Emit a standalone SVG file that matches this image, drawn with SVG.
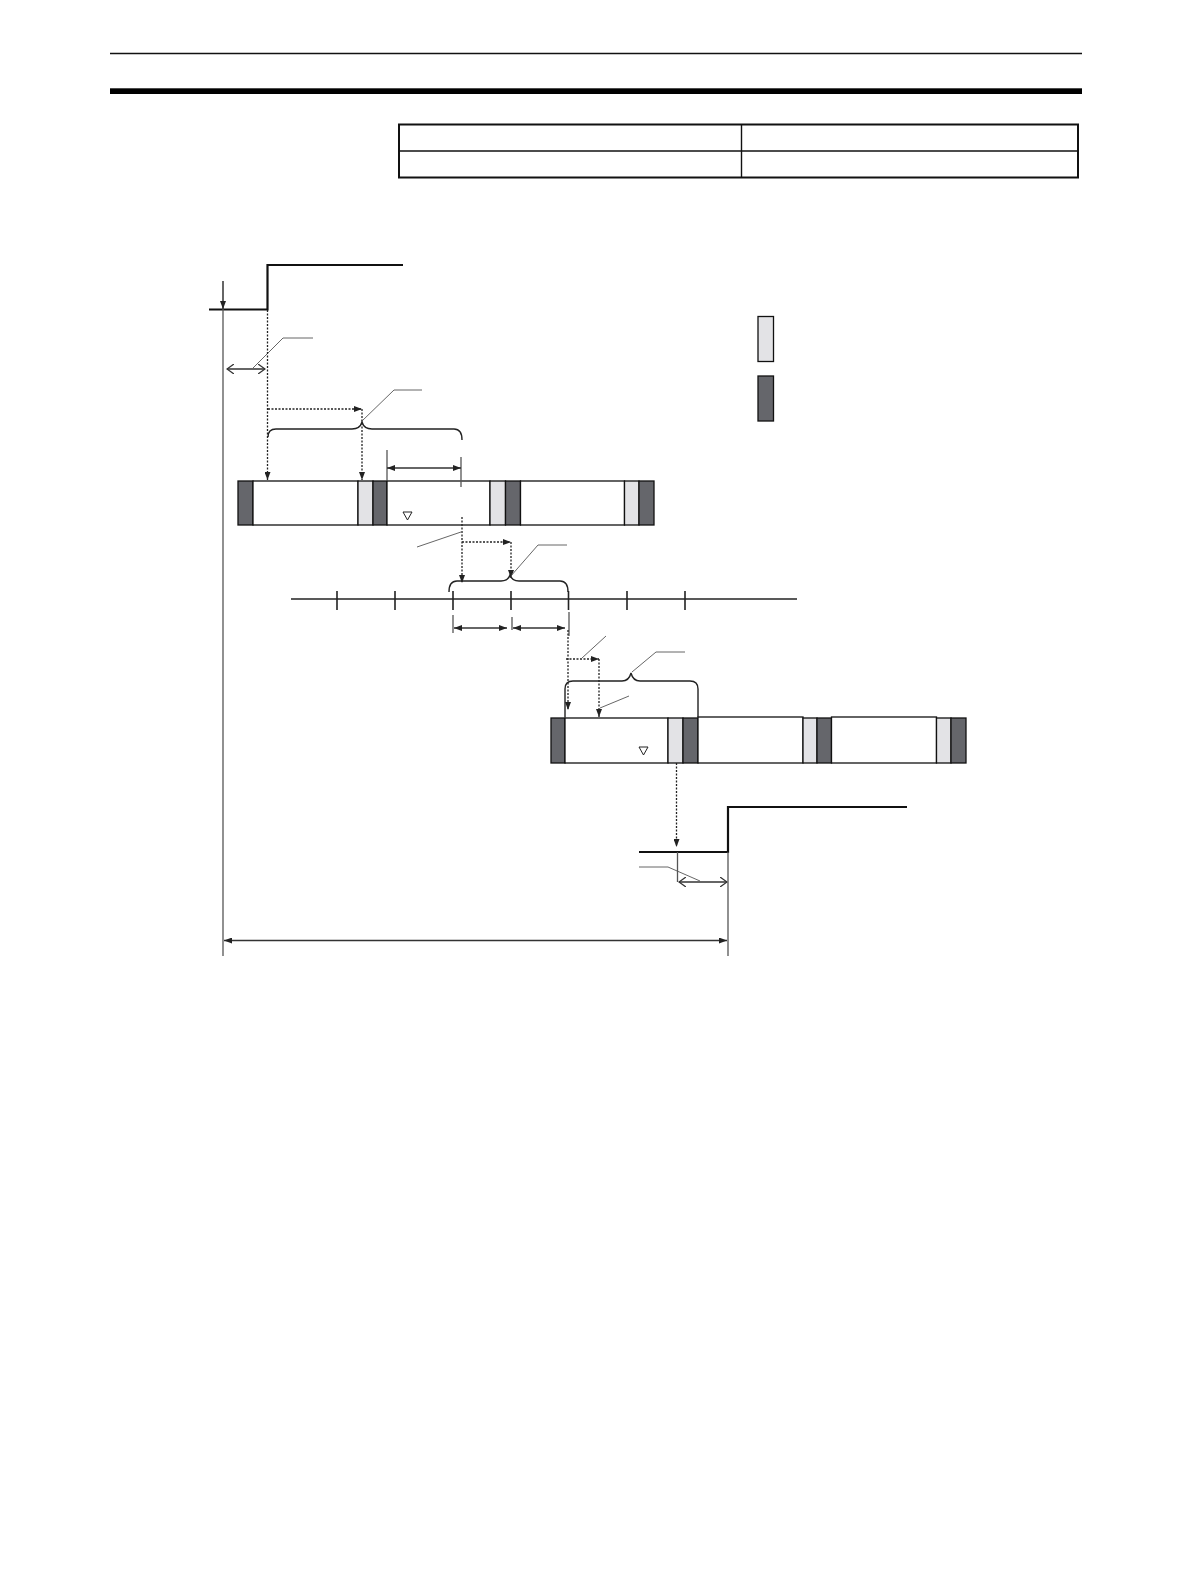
<svg xmlns="http://www.w3.org/2000/svg" width="1190" height="1584" viewBox="0 0 1190 1584">
<style>
.bg{fill:#fff}
.sig{stroke:#111;stroke-width:2.2;fill:none}
.frame{stroke:#111;fill:none}
.dot{stroke:#222;stroke-width:1.3;stroke-dasharray:2,1.5;fill:none}
.lead{stroke:#555;stroke-width:0.9;fill:none}
.dim{stroke:#333;stroke-width:1.5;fill:none}
.thin{stroke:#555;stroke-width:1.3;fill:none}
.brace{stroke:#222;stroke-width:1.4;fill:none}
.seg{stroke:#111;stroke-width:1.3}
.w{fill:#fff}
.l{fill:#e3e3e6}
.d{fill:#65666b}
.tick{stroke:#222;stroke-width:1.6}
</style>
<defs>
<marker id="ah" viewBox="0 0 8 6" refX="8" refY="3" markerWidth="8" markerHeight="6" markerUnits="userSpaceOnUse" orient="auto-start-reverse"><path d="M0,0 L8,3 L0,6 z" fill="#222"/></marker>
<marker id="oh" viewBox="0 0 8 10" refX="7" refY="5" markerWidth="8" markerHeight="10" markerUnits="userSpaceOnUse" orient="auto-start-reverse"><path d="M0,0 L7,5 L0,10" fill="none" stroke="#333" stroke-width="1.3"/></marker>
</defs>
<rect class="bg" width="1190" height="1584"/>

<g id="header">
<line x1="110" y1="53.5" x2="1082" y2="53.5" stroke="#111" stroke-width="1.6"/>
<rect x="110" y="88.3" width="972" height="5.7" fill="#000"/>
</g>

<g id="table">
<rect x="399" y="124.5" width="679" height="53" class="frame" stroke-width="2"/>
<line x1="399" y1="151" x2="1078" y2="151" stroke="#111" stroke-width="1.4"/>
<line x1="741.5" y1="124.5" x2="741.5" y2="177.5" stroke="#111" stroke-width="1.4"/>
</g>

<g id="input-signal">
<polyline class="sig" points="209,309.5 267.5,309.5 267.5,265 403,265" stroke-width="1.8"/>
</g>

<g id="output-signal">
<polyline class="sig" points="639,852 728,852 728,807 907,807" stroke-width="2.2"/>
</g>

<g id="legend">
<rect id="legend-light" x="758" y="316.5" width="15.5" height="45" class="seg l" stroke-width="1.6"/>
<rect id="legend-dark" x="758" y="376" width="15.5" height="45" class="seg d" stroke-width="1.6"/>
</g>

<g id="bar1">
<rect x="238" y="481" width="15" height="44" class="seg d"/>
<rect x="253" y="481" width="105" height="44" class="seg w"/>
<rect x="358" y="481" width="15" height="44" class="seg l"/>
<rect x="373" y="481" width="14" height="44" class="seg d"/>
<rect x="387" y="481" width="103" height="44" class="seg w"/>
<rect x="490" y="481" width="15.5" height="44" class="seg l"/>
<rect x="505.5" y="481" width="15" height="44" class="seg d"/>
<rect x="520.5" y="481" width="104" height="44" class="seg w"/>
<rect x="624.5" y="481" width="14.5" height="44" class="seg l"/>
<rect x="639" y="481" width="15" height="44" class="seg d"/>
<polygon points="403,512 412,512 407.5,520" fill="none" stroke="#222" stroke-width="1"/>
</g>

<g id="bar2">
<rect x="551" y="718" width="14" height="45" class="seg d"/>
<rect x="565" y="718" width="103" height="45" class="seg w"/>
<rect x="668" y="718" width="15" height="45" class="seg l"/>
<rect x="683" y="718" width="15" height="45" class="seg d"/>
<rect x="698" y="717" width="105" height="46" class="seg w"/>
<rect x="803" y="718" width="14" height="45" class="seg l"/>
<rect x="817" y="718" width="14.5" height="45" class="seg d"/>
<rect x="831.5" y="717" width="105" height="46" class="seg w"/>
<rect x="936.5" y="718" width="14.5" height="45" class="seg l"/>
<rect x="951" y="718" width="15" height="45" class="seg d"/>
<polygon points="639,747 648,747 643.5,755" fill="none" stroke="#222" stroke-width="1"/>
</g>

<g id="timeline">
<line x1="291" y1="599" x2="797" y2="599" stroke="#222" stroke-width="1.5"/>
<line class="tick" x1="337" y1="591" x2="337" y2="610"/>
<line class="tick" x1="395" y1="591" x2="395" y2="610"/>
<line class="tick" x1="453" y1="591" x2="453" y2="610"/>
<line class="tick" x1="511" y1="591" x2="511" y2="610"/>
<line class="tick" x1="568.5" y1="591" x2="568.5" y2="610"/>
<line class="tick" x1="627" y1="591" x2="627" y2="610"/>
<line class="tick" x1="685" y1="591" x2="685" y2="610"/>
</g>

<g id="connectors">
<!-- left reference line and down arrow -->
<line x1="223" y1="281" x2="223" y2="309" class="dim" marker-end="url(#ah)"/>
<line x1="223" y1="309" x2="223" y2="956" class="thin"/>
<!-- input delay arrow -->
<line x1="227" y1="369" x2="265" y2="369" class="dim" marker-start="url(#oh)" marker-end="url(#oh)"/>
<polyline class="lead" points="253,368 283,338 313,338"/>
<!-- dotted from input step to bar 1 -->
<line x1="267.5" y1="310" x2="267.5" y2="480" class="dot" marker-end="url(#ah)"/>
<line x1="268" y1="409" x2="362" y2="409" class="dot" marker-end="url(#ah)"/>
<line x1="362" y1="409" x2="362" y2="480" class="dot" marker-end="url(#ah)"/>
<!-- brace 1 -->
<path class="brace" d="M268,437 Q268,429 276,429 L352,429 Q360,429 362,422 Q364,429 372,429 L454,429 Q462,429 462,440"/>
<polyline class="lead" points="362,421 394,390 422,390"/>
<!-- dimension above bar 1 -->
<line x1="387" y1="450" x2="387" y2="481" class="thin"/>
<line x1="461" y1="457" x2="461" y2="487" class="thin"/>
<line x1="387" y1="468" x2="461" y2="468" class="dim" marker-start="url(#ah)" marker-end="url(#ah)"/>
<!-- from bar1 to timeline -->
<line x1="462" y1="517" x2="462" y2="583" class="dot" marker-end="url(#ah)"/>
<polyline class="lead" points="417,547 461,532"/>
<line x1="462" y1="542" x2="511" y2="542" class="dot" marker-end="url(#ah)"/>
<line x1="511" y1="542" x2="511" y2="578" class="dot" marker-end="url(#ah)"/>
<polyline class="lead" points="510,577 538,545 567,545"/>
<!-- brace 2 -->
<path class="brace" d="M449,592 Q449,581 457,581 L501,581 Q508,581 510,575 Q512,581 519,581 L560,581 Q568,581 568,592"/>
<!-- dimension below timeline -->
<line x1="453" y1="615" x2="453" y2="633" class="thin"/>
<line x1="512" y1="617" x2="512" y2="630" class="thin"/>
<line x1="569" y1="612" x2="569" y2="636" class="thin"/>
<line x1="454" y1="628" x2="507" y2="628" class="dim" marker-start="url(#ah)" marker-end="url(#ah)"/>
<line x1="513" y1="628" x2="565" y2="628" class="dim" marker-start="url(#ah)" marker-end="url(#ah)"/>
<!-- from timeline to bar 2 -->
<line x1="568" y1="630" x2="568" y2="710" class="dot" marker-end="url(#ah)"/>
<line x1="566" y1="659" x2="599" y2="659" class="dot" marker-end="url(#ah)"/>
<line x1="599" y1="659" x2="599" y2="717" class="dot" marker-end="url(#ah)"/>
<polyline class="lead" points="582,658 606,636"/>
<polyline class="lead" points="600,708 629,696"/>
<!-- brace 3 -->
<path class="brace" d="M565,717 L565,689 Q565,681 573,681 L622,681 Q629,681 631,673 Q633,681 640,681 L690,681 Q698,681 698,689 L698,717"/>
<polyline class="lead" points="632,672 656,652 685,652"/>
<!-- bar2 to output -->
<line x1="676.5" y1="763" x2="676.5" y2="847" class="dot" marker-end="url(#ah)"/>
<line x1="677.5" y1="852" x2="677.5" y2="882" class="thin" stroke="#888"/>
<line x1="679" y1="882" x2="727" y2="882" class="dim" marker-start="url(#oh)" marker-end="url(#oh)"/>
<polyline class="lead" points="639,867 668,867 700,881" stroke="#888"/>
<!-- right reference line -->
<line x1="728" y1="852" x2="728" y2="956" class="thin"/>
<!-- total time arrow -->
<line x1="224" y1="940.5" x2="727" y2="940.5" class="dim" marker-start="url(#ah)" marker-end="url(#ah)"/>
</g>
</svg>
